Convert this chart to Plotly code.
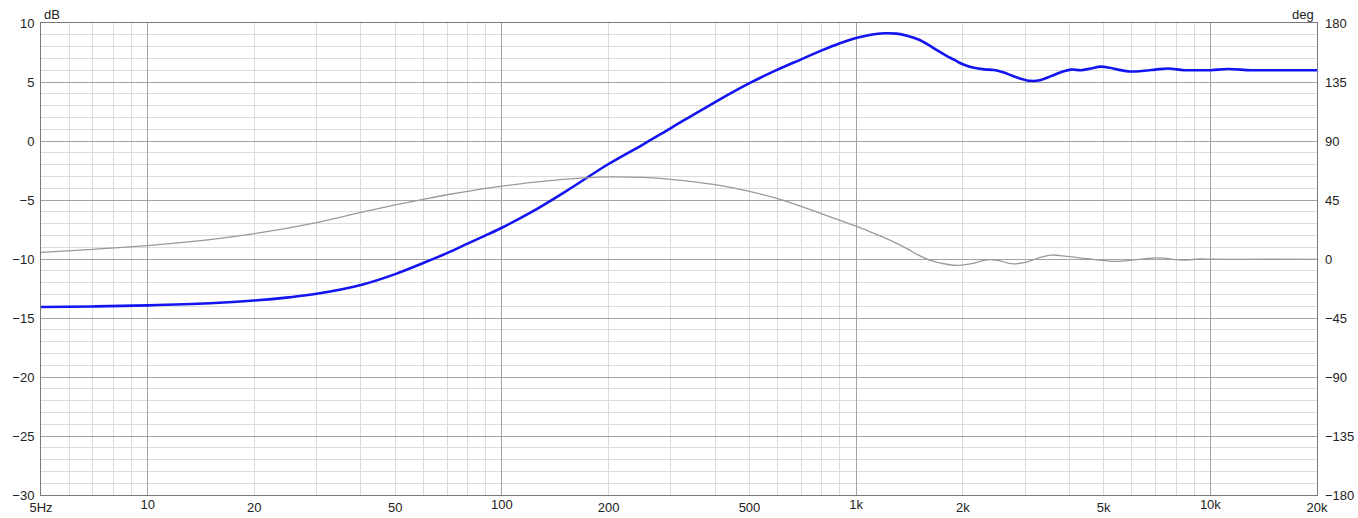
import numpy as np
import plotly.graph_objects as go

# --- data -------------------------------------------------------------
mag_freq = [5, 7, 10, 15, 20, 25, 30, 40, 50, 60, 70, 80, 90, 100, 120, 150, 200,
            250, 300, 400, 500, 600, 700, 800, 900, 1000, 1100, 1200, 1300, 1400,
            1500, 1600, 1700, 1800, 1900, 2000, 2150, 2300, 2450, 2600, 2750, 2900,
            3100, 3300, 3550, 3800, 4045, 4315, 4600, 4911, 5200, 5484, 5856, 6500,
            7000, 7590, 8430, 9200, 10045, 11220, 13030, 15000, 18030, 20000]
mag_db = [-14.07, -14.02, -13.93, -13.75, -13.52, -13.25, -12.95, -12.2, -11.28,
          -10.34, -9.5, -8.7, -8.0, -7.35, -6.1, -4.35, -1.95, -0.3, 1.1, 3.3,
          4.9, 6.05, 6.92, 7.68, 8.28, 8.72, 9.0, 9.13, 9.1, 8.9, 8.6, 8.15, 7.65,
          7.22, 6.85, 6.5, 6.2, 6.07, 6.02, 5.82, 5.55, 5.3, 5.1, 5.15, 5.5, 5.85,
          6.05, 6.0, 6.15, 6.3, 6.2, 6.05, 5.9, 5.95, 6.05, 6.15, 6.0, 6.0, 6.0,
          6.1, 6.0, 6.0, 6.0, 6.0]

phase_freq = [5, 7, 10, 15, 20, 30, 40, 50, 60, 70, 85, 100, 120, 140, 170, 200, 250,
              300, 400, 500, 600, 700, 800, 900, 1000, 1100, 1250, 1400, 1490, 1620,
              1800, 1950, 2100, 2300, 2400, 2600, 2740, 3000, 3250, 3550, 3940, 4500,
              5400, 6200, 7100, 8400, 9300, 10000, 12000, 15000, 20000]
phase_deg = [5.0, 7.4, 10.2, 14.8, 19.3, 27.8, 35.5, 41.2, 45.5, 49.0, 52.8, 55.5,
             58.2, 60.0, 61.8, 62.6, 62.2, 60.8, 56.7, 51.6, 46.0, 40.1, 34.5, 29.5,
             25.0, 20.5, 14.2, 7.5, 3.3, -1.0, -4.0, -4.9, -3.8, -1.0, -0.5, -2.0,
             -3.6, -2.6, 0.5, 3.0, 2.0, 0.2, -1.8, -0.5, 0.8, -0.8, 0.0, -0.2, -0.3,
             -0.2, -0.3]

decade_vals = [10, 100, 1000, 10000]
decade_text = ["10", "100", "1k", "10k"]
label_map = {5: "5Hz", 20: "20", 50: "50", 200: "200", 500: "500",
             2000: "2k", 5000: "5k", 20000: "20k"}
minor_vals = sorted([5, 20000] + [m * d for d in [1, 10, 100, 1000, 10000]
                                  for m in range(2, 10) if 5 < m * d < 20000])
minor_text = [label_map.get(v, "") for v in minor_vals]

db_ticks = list(range(-30, 11, 5))
deg_ticks = list(range(-180, 181, 45))

# --- figure -----------------------------------------------------------
FONT = "Liberation Sans"
MAJOR = "#a3a3a3"
MINOR = "#dcdcdc"
TXT = "#222222"
XR = [np.log10(5), np.log10(20000)]

fig = go.Figure()
fig.add_trace(go.Scatter(x=phase_freq, y=phase_deg, yaxis="y2", mode="lines",
                         line=dict(color="#9a9a9a", width=1.3, shape="spline",
                                   smoothing=1.0),
                         showlegend=False, hoverinfo="skip"))
fig.add_trace(go.Scatter(x=mag_freq, y=mag_db, mode="lines",
                         line=dict(color="#1414f0", width=2.6, shape="spline",
                                   smoothing=1.0),
                         showlegend=False))
# trace on the decade axis so that it is drawn
fig.add_trace(go.Scatter(x=[5, 20000], y=[None, None], xaxis="x2", mode="lines",
                         showlegend=False, hoverinfo="skip"))

tf = dict(family=FONT, size=13, color=TXT)
fig.update_layout(
    width=1358, height=518,
    margin=dict(l=41, r=41, t=23, b=23),
    paper_bgcolor="white", plot_bgcolor="white",
    font=tf,
    xaxis=dict(type="log", range=XR, tickmode="array",
               tickvals=minor_vals, ticktext=minor_text, ticks="",
               showgrid=True, gridcolor=MINOR, gridwidth=1,
               showline=True, linecolor="#7a7a7a", linewidth=1, mirror=True,
               zeroline=False, automargin=False, tickfont=tf),
    xaxis2=dict(type="log", range=XR, overlaying="x", side="bottom", matches="x",
                tickmode="array", tickvals=decade_vals, ticktext=decade_text,
                ticks="", showgrid=True, gridcolor=MAJOR, gridwidth=1,
                zeroline=False, showline=False, automargin=False, tickfont=tf),
    yaxis=dict(range=[-30, 10], tickvals=db_ticks, ticks="",
               showgrid=True, gridcolor=MAJOR, gridwidth=1,
               minor=dict(dtick=1, showgrid=True, gridcolor=MINOR, gridwidth=1, ticks=""),
               showline=True, linecolor="#7a7a7a", linewidth=1, mirror=True,
               zeroline=False, ticklabelstandoff=3, automargin=False, tickfont=tf),
    yaxis2=dict(range=[-180, 180], tickvals=deg_ticks, overlaying="y", side="right",
                showgrid=False, zeroline=False, ticks="", ticklabelstandoff=7,
                automargin=False, tickfont=tf),
    annotations=[
        dict(text="dB", xref="paper", yref="paper", x=0, y=1, xanchor="left",
             yanchor="bottom", xshift=1, yshift=-1, showarrow=False, font=tf),
        dict(text="deg", xref="paper", yref="paper", x=1, y=1, xanchor="right",
             yanchor="bottom", xshift=-1, yshift=-1, showarrow=False, font=tf),
    ],
)

fig.write_html("out.html",
               config={"displayModeBar": False},
               post_script="document.body.style.margin='0';"
                           "document.body.style.overflow='hidden';")
